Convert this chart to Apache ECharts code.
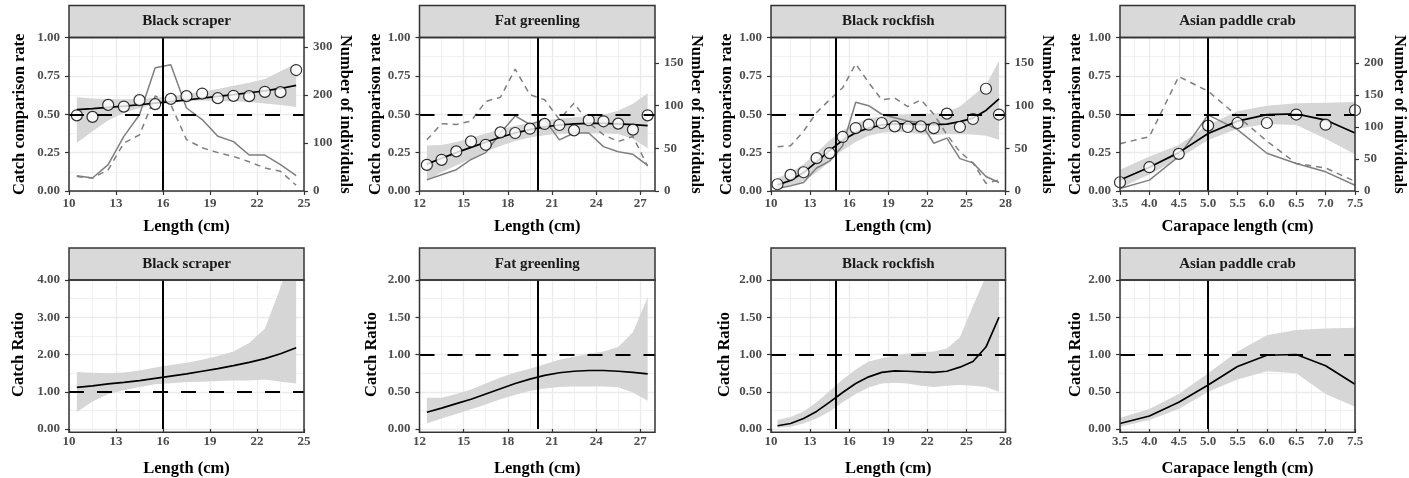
<!DOCTYPE html>
<html>
<head>
<meta charset="utf-8">
<script src="https://cdn.jsdelivr.net/npm/echarts@6/dist/echarts.min.js"></script>
<style>
  html, body { margin: 0; padding: 0; background: #ffffff; }
  #chart { width: 1409px; height: 478px; }
</style>
</head>
<body>
<div id="chart"></div>
<script>
// ---- Black scraper (1-cm length classes) ----
const scraperLength = [10.5, 11.5, 12.5, 13.5, 14.5, 15.5, 16.5, 17.5, 18.5, 19.5, 20.5, 21.5, 22.5, 23.5, 24.5];
const scraperRate = [0.493, 0.483, 0.561, 0.55, 0.592, 0.566, 0.60, 0.618, 0.635, 0.605, 0.62, 0.618, 0.646, 0.644, 0.788];
const scraperFit = [0.53, 0.537, 0.545, 0.553, 0.562, 0.572, 0.582, 0.593, 0.605, 0.617, 0.628, 0.64, 0.652, 0.668, 0.688];
const scraperFitLow = [0.312, 0.39, 0.46, 0.51, 0.54, 0.563, 0.574, 0.585, 0.59, 0.585, 0.585, 0.579, 0.57, 0.561, 0.548];
const scraperFitHigh = [0.61, 0.603, 0.60, 0.598, 0.60, 0.607, 0.618, 0.632, 0.648, 0.665, 0.685, 0.705, 0.73, 0.78, 0.832];
const scraperTest = [32, 27, 55, 114, 159, 257, 263, 173, 149, 114, 103, 75, 75, 55, 32];
const scraperControl = [30, 27, 44, 100, 117, 198, 180, 107, 90, 80, 72, 61, 48, 41, 12];
const scraperRatio = [1.12, 1.16, 1.21, 1.25, 1.30, 1.36, 1.42, 1.48, 1.55, 1.62, 1.70, 1.79, 1.89, 2.02, 2.18];
const scraperRatioLow = [0.455, 0.74, 0.94, 1.04, 1.13, 1.20, 1.23, 1.26, 1.27, 1.29, 1.30, 1.30, 1.33, 1.27, 1.22];
const scraperRatioHigh = [1.53, 1.51, 1.50, 1.52, 1.57, 1.65, 1.72, 1.78, 1.86, 1.96, 2.08, 2.31, 2.69, 3.8, 5.1];

// ---- Fat greenling ----
const greenlingLength = [12.5, 13.5, 14.5, 15.5, 16.5, 17.5, 18.5, 19.5, 20.5, 21.5, 22.5, 23.5, 24.5, 25.5, 26.5, 27.5];
const greenlingRate = [0.170, 0.203, 0.258, 0.323, 0.301, 0.382, 0.378, 0.406, 0.437, 0.430, 0.395, 0.461, 0.454, 0.439, 0.400, 0.493];
const greenlingFit = [0.175, 0.213, 0.25, 0.284, 0.318, 0.35, 0.378, 0.40, 0.418, 0.43, 0.437, 0.44, 0.44, 0.437, 0.432, 0.426];
const greenlingFitLow = [0.066, 0.122, 0.166, 0.212, 0.254, 0.293, 0.325, 0.349, 0.364, 0.373, 0.376, 0.376, 0.376, 0.372, 0.34, 0.278];
const greenlingFitHigh = [0.297, 0.30, 0.32, 0.345, 0.375, 0.40, 0.425, 0.443, 0.46, 0.472, 0.48, 0.488, 0.497, 0.522, 0.568, 0.637];
const greenlingTest = [13, 19, 25, 37, 45, 68, 88, 78, 84, 60, 68, 68, 52, 46, 43, 30];
const greenlingControl = [60, 79, 78, 82, 105, 110, 143, 113, 107, 84, 103, 80, 66, 58, 64, 29];
const greenlingRatio = [0.225, 0.28, 0.34, 0.40, 0.47, 0.54, 0.61, 0.67, 0.72, 0.755, 0.775, 0.785, 0.785, 0.775, 0.76, 0.74];
const greenlingRatioLow = [0.075, 0.14, 0.20, 0.265, 0.33, 0.40, 0.46, 0.51, 0.545, 0.565, 0.57, 0.57, 0.57, 0.56, 0.49, 0.38];
const greenlingRatioHigh = [0.42, 0.42, 0.47, 0.53, 0.61, 0.69, 0.76, 0.81, 0.87, 0.93, 0.97, 1.01, 1.04, 1.10, 1.30, 1.77];

// ---- Black rockfish ----
const rockfishLength = [10.5, 11.5, 12.5, 13.5, 14.5, 15.5, 16.5, 17.5, 18.5, 19.5, 20.5, 21.5, 22.5, 23.5, 24.5, 25.5, 26.5, 27.5];
const rockfishRate = [0.044, 0.105, 0.122, 0.214, 0.247, 0.352, 0.41, 0.432, 0.443, 0.421, 0.417, 0.421, 0.41, 0.504, 0.417, 0.469, 0.666, 0.498];
const rockfishFit = [0.04, 0.068, 0.12, 0.19, 0.265, 0.33, 0.38, 0.41, 0.43, 0.438, 0.437, 0.434, 0.432, 0.436, 0.452, 0.475, 0.525, 0.60];
const rockfishFitLow = [0.017, 0.03, 0.065, 0.12, 0.19, 0.265, 0.32, 0.36, 0.38, 0.385, 0.383, 0.37, 0.365, 0.37, 0.37, 0.368, 0.36, 0.334];
const rockfishFitHigh = [0.085, 0.12, 0.175, 0.25, 0.33, 0.395, 0.442, 0.472, 0.486, 0.493, 0.50, 0.503, 0.505, 0.515, 0.551, 0.621, 0.69, 0.847];
const rockfishTest = [3, 6, 10, 27, 35, 53, 104, 100, 90, 86, 82, 80, 56, 62, 38, 33, 17, 10];
const rockfishControl = [52, 53, 70, 92, 107, 121, 149, 127, 107, 109, 99, 107, 90, 66, 46, 33, 9, 13];
const rockfishRatio = [0.044, 0.074, 0.14, 0.236, 0.36, 0.49, 0.61, 0.70, 0.76, 0.78, 0.775, 0.766, 0.76, 0.775, 0.83, 0.906, 1.10, 1.50];
const rockfishRatioLow = [0.018, 0.03, 0.074, 0.14, 0.236, 0.36, 0.47, 0.556, 0.61, 0.62, 0.61, 0.58, 0.565, 0.58, 0.59, 0.58, 0.565, 0.50];
const rockfishRatioHigh = [0.12, 0.16, 0.236, 0.36, 0.51, 0.665, 0.80, 0.906, 0.95, 0.985, 1.015, 1.03, 1.04, 1.08, 1.23, 1.65, 2.05, 5.5];

// ---- Asian paddle crab (0.5-cm carapace classes) ----
const crabLength = [3.5, 4.0, 4.5, 5.0, 5.5, 6.0, 6.5, 7.0, 7.5];
const crabRate = [0.057, 0.155, 0.242, 0.426, 0.443, 0.443, 0.498, 0.432, 0.526];
const crabFit = [0.072, 0.155, 0.25, 0.375, 0.455, 0.498, 0.502, 0.462, 0.378];
const crabFitLow = [0.02, 0.107, 0.212, 0.332, 0.405, 0.436, 0.43, 0.34, 0.24];
const crabFitHigh = [0.138, 0.225, 0.30, 0.43, 0.52, 0.555, 0.572, 0.575, 0.58];
const crabTest = [4, 17, 54, 119, 96, 59, 43, 30, 9];
const crabControl = [74, 85, 179, 156, 117, 78, 43, 36, 15];
const crabRatio = [0.074, 0.175, 0.36, 0.59, 0.84, 0.99, 1.0, 0.85, 0.60];
const crabRatioLow = [0.03, 0.12, 0.27, 0.50, 0.665, 0.775, 0.75, 0.47, 0.30];
const crabRatioHigh = [0.15, 0.27, 0.47, 0.75, 1.04, 1.26, 1.33, 1.35, 1.36];

// ---- Facet labels, axes and reference values ----
const species = ['Black scraper', 'Fat greenling', 'Black rockfish', 'Asian paddle crab'];
const xTitles = ['Length (cm)', 'Length (cm)', 'Length (cm)', 'Carapace length (cm)'];
const xMin = [10, 12, 10, 3.5];
const xMax = [25, 28, 28, 7.5];
const xStep = [3, 3, 3, 0.5];
const xTicks1 = [10, 13, 16, 19, 22, 25];
const xTicks2 = [12, 15, 18, 21, 24, 27];
const xTicks3 = [10, 13, 16, 19, 22, 25, 28];
const xTicks4 = [3.5, 4.0, 4.5, 5.0, 5.5, 6.0, 6.5, 7.0, 7.5];
const sizeLimit = [16, 20, 15, 5.0];
const countMax = [320, 180, 180, 240];
const countTicks1 = [0, 100, 200, 300];
const countTicks2 = [0, 50, 100, 150];
const countTicks3 = [0, 50, 100, 150];
const countTicks4 = [0, 50, 100, 150, 200];
const ratioMax = [4, 2, 2, 2];
const ratioStep = [1, 0.5, 0.5, 0.5];

const lengths = [scraperLength, greenlingLength, rockfishLength, crabLength];
const rates = [scraperRate, greenlingRate, rockfishRate, crabRate];
const fits = [scraperFit, greenlingFit, rockfishFit, crabFit];
const fitLows = [scraperFitLow, greenlingFitLow, rockfishFitLow, crabFitLow];
const fitHighs = [scraperFitHigh, greenlingFitHigh, rockfishFitHigh, crabFitHigh];
const tests = [scraperTest, greenlingTest, rockfishTest, crabTest];
const controls = [scraperControl, greenlingControl, rockfishControl, crabControl];
const ratios = [scraperRatio, greenlingRatio, rockfishRatio, crabRatio];
const ratioLows = [scraperRatioLow, greenlingRatioLow, rockfishRatioLow, crabRatioLow];
const ratioHighs = [scraperRatioHigh, greenlingRatioHigh, rockfishRatioHigh, crabRatioHigh];
const xTicks = [xTicks1, xTicks2, xTicks3, xTicks4];
const countTicks = [countTicks1, countTicks2, countTicks3, countTicks4];

// ---- Layout of the 2 x 4 facet grid (pixels) ----
const colLeft = [69, 419.5, 771, 1120];
const colWidth = [235, 235.5, 234.5, 235];
const rowTop = [37.5, 280];
const rowHeight = [153.5, 152.3];
const stripHeight = 32;
const leftNameGap = [[40.5, 35, 36, 35], [41.5, 39, 38, 36]];
const rightNameGap = [33, 29, 33, 36];
const xNameGap = [27, 31];

const FONT = "'Liberation Serif', 'Times New Roman', serif";
const tickLabel = { color: '#4d4d4d', fontFamily: FONT, fontWeight: 'bold', fontSize: 13 };
const titleText = { color: '#000000', fontFamily: FONT, fontWeight: 'bold', fontSize: 16.5 };
const tickLine = { show: true, length: 4, lineStyle: { color: '#333333', width: 1.2 } };
const majorGrid = { show: true, lineStyle: { color: '#ebebeb', width: 1.3 } };
const minorGrid = { show: true, lineStyle: { color: '#ebebeb', width: 0.7 } };
const BAND = '#d6d6d6';
const GREY = '#7f7f7f';

const zip = (xs, ys) => xs.map((x, k) => [x, ys[k]]);

const grids = [], xAxes = [], yAxes = [], series = [], graphics = [];

function addFrame(row, col) {
  const left = colLeft[col], top = rowTop[row], w = colWidth[col], h = rowHeight[row];
  graphics.push({
    type: 'rect', z: 100, silent: true,
    shape: { x: left, y: top - stripHeight, width: w, height: stripHeight },
    style: { fill: '#d9d9d9', stroke: '#333333', lineWidth: 1.5 }
  });
  graphics.push({
    type: 'text', z: 101, silent: true,
    style: {
      text: species[col], x: left + w / 2, y: top - stripHeight / 2,
      align: 'center', verticalAlign: 'middle',
      fill: '#1a1a1a', font: 'bold 15px ' + FONT
    }
  });
  graphics.push({
    type: 'rect', z: 100, silent: true,
    shape: { x: left, y: top, width: w, height: h },
    style: { fill: 'none', stroke: '#333333', lineWidth: 1.5 }
  });
}

function addAxes(row, col) {
  const gi = grids.length;
  grids.push({ left: colLeft[col], top: rowTop[row], width: colWidth[col], height: rowHeight[row] });
  const xi = xAxes.length;
  xAxes.push({
    type: 'value', gridIndex: gi, min: xMin[col], max: xMax[col], interval: xStep[col],
    axisLine: { show: false },
    axisTick: Object.assign({}, tickLine, { customValues: xTicks[col] }),
    axisLabel: Object.assign({}, tickLabel, {
      margin: 6, customValues: xTicks[col],
      formatter: v => (col === 3 ? v.toFixed(1) : String(v))
    }),
    splitLine: majorGrid,
    minorTick: { show: false, splitNumber: 2 },
    minorSplitLine: minorGrid,
    name: xTitles[col], nameLocation: 'middle', nameGap: xNameGap[row], nameTextStyle: titleText
  });
  const yi = yAxes.length;
  yAxes.push({
    type: 'value', gridIndex: gi, position: 'left',
    min: 0, max: row === 0 ? 1 : ratioMax[col], interval: row === 0 ? 0.25 : ratioStep[col],
    axisLine: { show: false },
    axisTick: tickLine,
    axisLabel: Object.assign({}, tickLabel, { margin: 9, formatter: v => v.toFixed(2) }),
    splitLine: majorGrid,
    minorTick: { show: false, splitNumber: 2 },
    minorSplitLine: minorGrid,
    name: row === 0 ? 'Catch comparison rate' : 'Catch Ratio',
    nameLocation: 'middle', nameRotate: 90, nameGap: leftNameGap[row][col], nameTextStyle: titleText
  });
  let yr = null;
  if (row === 0) {
    yr = yAxes.length;
    yAxes.push({
      type: 'value', gridIndex: gi, position: 'right', min: 0, max: countMax[col],
      axisLine: { show: false },
      axisTick: Object.assign({}, tickLine, { customValues: countTicks[col] }),
      axisLabel: Object.assign({}, tickLabel, { margin: 9, customValues: countTicks[col] }),
      splitLine: { show: false },
      name: 'Number of individuals', nameLocation: 'middle', nameRotate: -90,
      nameGap: rightNameGap[col], nameTextStyle: titleText
    });
  }
  return { xi, yi, yr };
}

// Confidence ribbon: one polygon through the upper limits and back along the lower limits
function bandSeries(ax, xs, lo, hi) {
  return {
    type: 'custom', xAxisIndex: ax.xi, yAxisIndex: ax.yi, clip: true, silent: true, z: 1,
    data: xs.map((x, k) => [x, lo[k], hi[k]]),
    encode: { x: 0, y: [1, 2] },
    renderItem: (params, api) => {
      if (params.dataIndex !== 0) return null;
      const upper = xs.map((x, k) => api.coord([x, hi[k]]));
      const lower = xs.map((x, k) => api.coord([x, lo[k]])).reverse();
      return { type: 'polygon', shape: { points: upper.concat(lower) }, style: { fill: BAND } };
    }
  };
}

function refLines(ax, xv, yv) {
  return {
    type: 'line', xAxisIndex: ax.xi, yAxisIndex: ax.yi, data: [], silent: true, z: 6,
    markLine: {
      silent: true, symbol: 'none', label: { show: false }, animation: false,
      data: [
        { xAxis: xv, lineStyle: { color: '#000000', width: 2, type: 'solid' } },
        { yAxis: yv, lineStyle: { color: '#000000', width: 2.2, type: [15, 13] } }
      ]
    }
  };
}

species.forEach((name, col) => {
  // catch comparison rate with catch numbers per gear
  const top = addAxes(0, col);
  addFrame(0, col);
  series.push(bandSeries(top, lengths[col], fitLows[col], fitHighs[col]));
  series.push({ type: 'line', xAxisIndex: top.xi, yAxisIndex: top.yr, data: zip(lengths[col], tests[col]),
    symbol: 'none', lineStyle: { color: GREY, width: 1.5 }, silent: true, z: 2 });
  series.push({ type: 'line', xAxisIndex: top.xi, yAxisIndex: top.yr, data: zip(lengths[col], controls[col]),
    symbol: 'none', lineStyle: { color: GREY, width: 1.5, type: [6, 5] }, silent: true, z: 2 });
  series.push({ type: 'line', xAxisIndex: top.xi, yAxisIndex: top.yi, data: zip(lengths[col], fits[col]),
    symbol: 'none', lineStyle: { color: '#000000', width: 1.7 }, silent: true, z: 3 });
  series.push({ type: 'scatter', xAxisIndex: top.xi, yAxisIndex: top.yi, data: zip(lengths[col], rates[col]),
    symbol: 'circle', symbolSize: 11, itemStyle: { color: '#ffffff', borderColor: '#000000', borderWidth: 1.2 },
    silent: true, z: 4 });
  series.push(refLines(top, sizeLimit[col], 0.5));

  // catch ratio
  const bot = addAxes(1, col);
  addFrame(1, col);
  series.push(bandSeries(bot, lengths[col], ratioLows[col], ratioHighs[col]));
  series.push({ type: 'line', xAxisIndex: bot.xi, yAxisIndex: bot.yi, data: zip(lengths[col], ratios[col]),
    symbol: 'none', lineStyle: { color: '#000000', width: 1.7 }, silent: true, z: 3 });
  series.push(refLines(bot, sizeLimit[col], 1));
});

const chart = echarts.init(document.getElementById('chart'), null, { renderer: 'canvas' });
chart.setOption({
  backgroundColor: '#ffffff',
  animation: false,
  grid: grids,
  xAxis: xAxes,
  yAxis: yAxes,
  series: series,
  graphic: graphics
});
</script>
</body>
</html>
